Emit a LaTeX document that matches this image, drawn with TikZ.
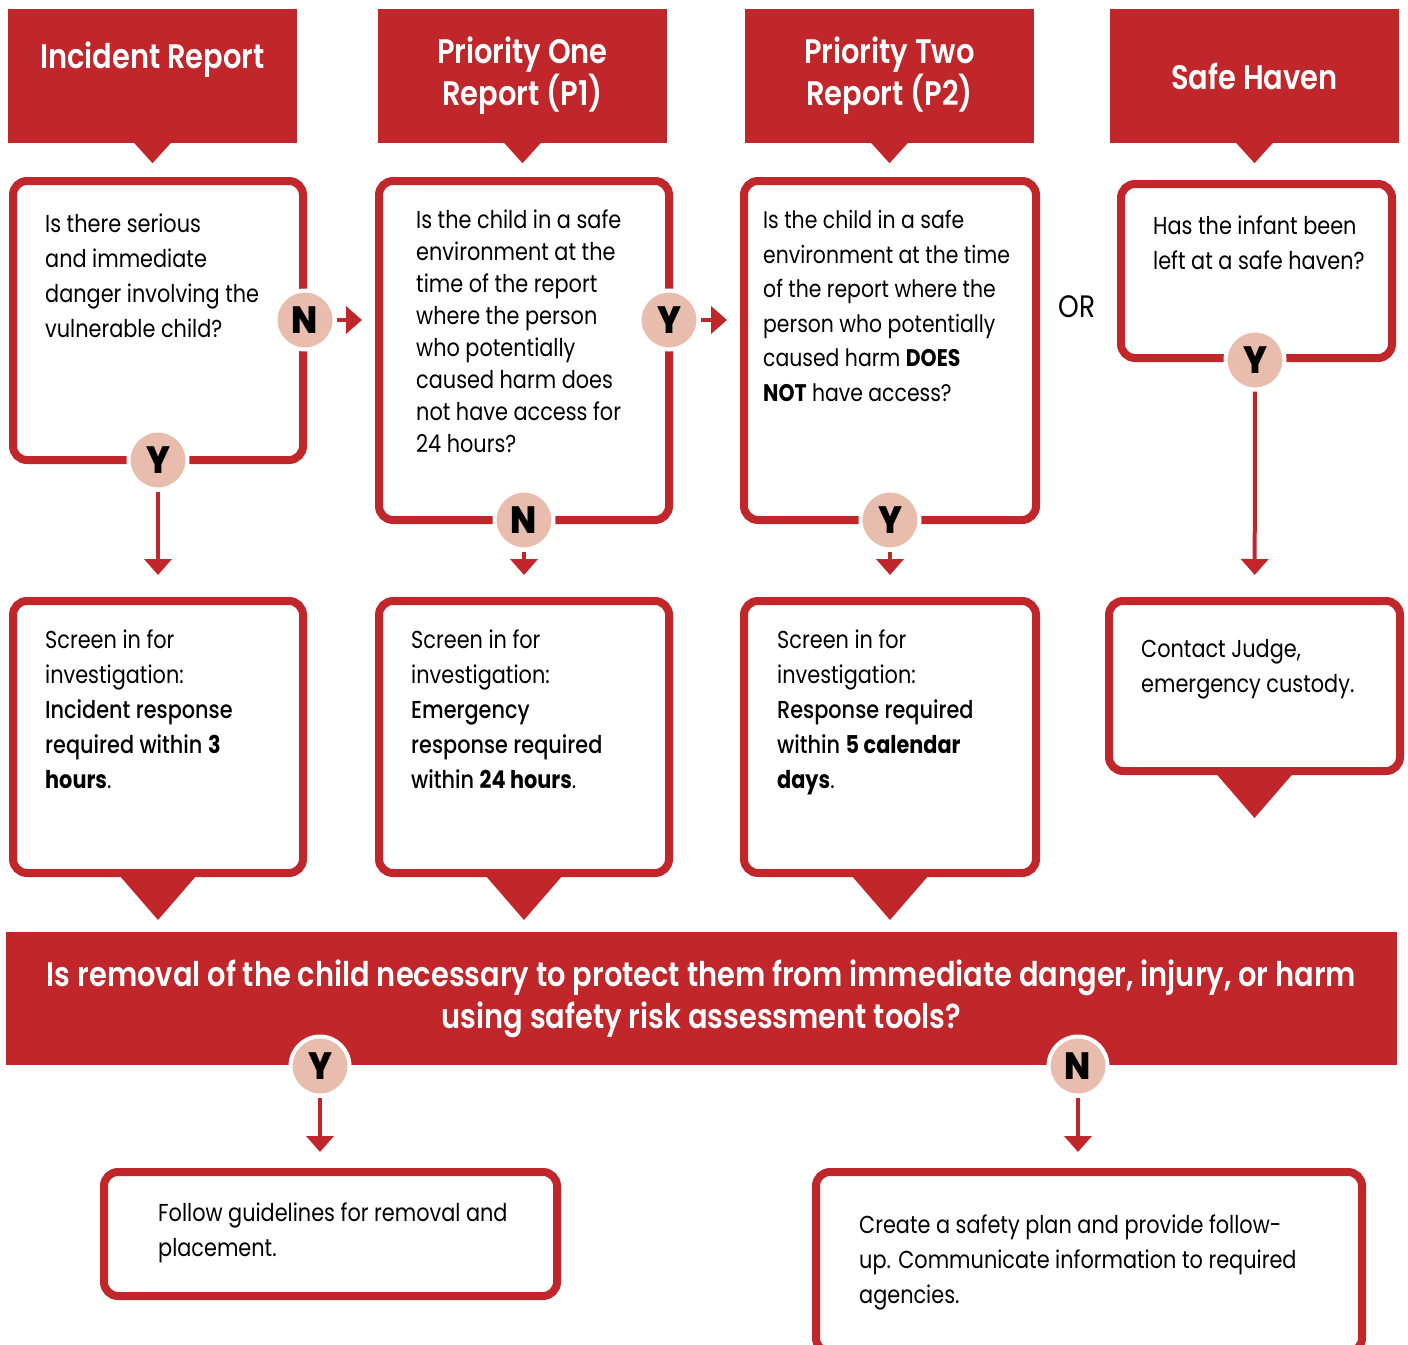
\documentclass[tikz,border=0pt]{standalone}
\usepackage{fontspec}
\setmainfont{Poppins}[FakeStretch=0.85]
\newfontfamily\medfont{Poppins Medium}[FakeStretch=0.85]
\newfontfamily\semifont{Poppins SemiBold}[FakeStretch=0.85]
\newfontfamily\heavyfont{Poppins ExtraBold}[FakeStretch=0.9]
\usetikzlibrary{positioning,arrows.meta}

\definecolor{flowred}{RGB}{192,38,42}
\definecolor{yesno}{RGB}{233,189,173}

\tikzset{
  header/.style={fill=flowred, text=white, align=center, inner sep=0pt,
    font=\semifont\fontsize{34}{42}\selectfont,
    minimum width=289pt, minimum height=134pt},
  qbox/.style={draw=flowred, fill=white, line width=8pt, rounded corners=14pt},
  qtext/.style={align=left, inner sep=0pt, font=\fontsize{24.5}{35}\selectfont},
  answer/.style={circle, fill=yesno, draw=white, line width=4pt, minimum size=59pt,
    inner sep=0pt, font=\heavyfont\fontsize{38}{38}\selectfont},
  arr/.style={draw=flowred, line width=4pt, -{Triangle[length=16pt,width=27pt]}}
}

\begin{document}
\begin{tikzpicture}[x=1pt, y=-1pt]

    \clip (0,0) rectangle (1408,1344);
    \fill[white] (0,0) rectangle (1408,1344);

    %% Report types

    % Headers
    \node[header] (h1) at (152.5,76) {Incident Report\\~};
    \node[header] (h2) at (522.5,76) {Priority One\\Report (P1)};
    \node[header] (h3) at (889.5,76) {Priority Two\\Report (P2)};
    \node[header] (h4) at (1254.5,76) {Safe Haven};
    \foreach \h in {h1,h2,h3,h4}
        \fill[flowred] (\h.south) ++(-19,-1) -- ++(38,0) -- ++(-19,21) -- cycle;

    % Questions
    \node[qbox, minimum width=290pt, minimum height=279pt] (q1) at (158,320.5) {};
    \node[qbox, minimum width=290pt, minimum height=339pt] (q2) at (524,350.5) {};
    \node[qbox, minimum width=292pt, minimum height=339pt] (q3) at (890,350.5) {};
    \node[qbox, minimum width=271pt, minimum height=174pt] (q4) at (1256.5,271) {};

    \node[qtext, below right=37pt and 36pt of q1.north west] (q1t)
        {Is there serious\\and immediate\\danger involving the\\vulnerable child?};
    \node[qtext, font=\fontsize{24.5}{32}\selectfont, below right=33pt and 41pt of q2.north west] (q2t)
        {Is the child in a safe\\environment at the\\time of the report\\where the person\\who potentially\\caused harm does\\not have access for\\24 hours?};
    \node[qtext, font=\fontsize{24}{34.5}\selectfont, below right=33pt and 23pt of q3.north west] (q3t)
        {Is the child in a safe\\environment at the time\\of the report where the\\person who potentially\\caused harm \textbf{DOES}\\\textbf{NOT} have access?};
    \node[qtext, below right=36pt and 36pt of q4.north west] (q4t)
        {Has the infant been\\left at a safe haven?};

    \node[font=\fontsize{31}{31}\selectfont] (or) at (1077,307) {OR};

    % Answers on the questions
    \node[answer] (n1) at (305,320) {N};
    \node[answer] (y1) at (158,460) {Y};
    \node[answer] (y2) at (669,320) {Y};
    \node[answer] (n2) at (524,520) {N};
    \node[answer] (y3) at (890,520) {Y};
    \node[answer] (y4) at (1255,360) {Y};

    %% Screening results
    \node[qbox, minimum width=290pt, minimum height=272pt] (r1) at (158,737) {};
    \node[qbox, minimum width=290pt, minimum height=272pt] (r2) at (524,737) {};
    \node[qbox, minimum width=292pt, minimum height=272pt] (r3) at (890,737) {};
    \node[qbox, minimum width=291pt, minimum height=170pt] (r4) at (1254.5,686) {};

    \node[qtext, below right=33pt and 36pt of r1.north west] (r1t)
        {Screen in for\\investigation:\\{\medfont Incident response}\\{\medfont required within} \textbf{3}\\\textbf{hours}.};
    \node[qtext, below right=33pt and 36pt of r2.north west] (r2t)
        {Screen in for\\investigation:\\{\medfont Emergency}\\{\medfont response required}\\{\medfont within} \textbf{24 hours}.};
    \node[qtext, below right=33pt and 37pt of r3.north west] (r3t)
        {Screen in for\\investigation:\\{\medfont Response required}\\{\medfont within} \textbf{5 calendar}\\\textbf{days}.};
    \node[qtext, below right=42pt and 36pt of r4.north west] (r4t)
        {Contact Judge,\\emergency custody.};

    \foreach \r in {r1,r2,r3,r4}
        \fill[flowred] (\r.south) ++(-39,-2) -- ++(78,0) -- ++(-39,45) -- cycle;

    % Arrows from the answers
    \coordinate (a1) at (362,320);
    \coordinate (a2) at (727,320);
    \draw[arr] (n1) -- (a1);
    \draw[arr] (y2) -- (a2);
    \draw[arr, shorten >=22pt] (y1) -- (r1);
    \draw[arr, shorten >=22pt] (n2) -- (r2);
    \draw[arr, shorten >=22pt] (y3) -- (r3);
    \draw[arr, shorten >=22pt] (y4) -- (r4);

    %% Removal decision
    \node[header, minimum width=1391pt, minimum height=133pt] (rem) at (701.5,998.5)
        {Is removal of the child necessary to protect them from immediate danger, injury, or harm\\using safety risk assessment tools?};

    \node[answer] (y5) at (320,1066) {Y};
    \node[answer] (n5) at (1078,1066) {N};

    \node[qbox, minimum width=453pt, minimum height=124pt] (f1) at (330.5,1234) {};
    \node[qbox, minimum width=546pt, minimum height=180pt] (f2) at (1089,1262) {};

    \node[qtext, below right=35pt and 58pt of f1.north west] (f1t)
        {Follow guidelines for removal and\\placement.};
    \node[qtext, below right=47pt and 47pt of f2.north west] (f2t)
        {Create a safety plan and provide follow-\\up. Communicate information to required\\agencies.};

    \coordinate (e5) at (320,1152);
    \coordinate (e6) at (1078,1152);
    \draw[arr] (y5) -- (e5);
    \draw[arr] (n5) -- (e6);

\end{tikzpicture}
\end{document}
